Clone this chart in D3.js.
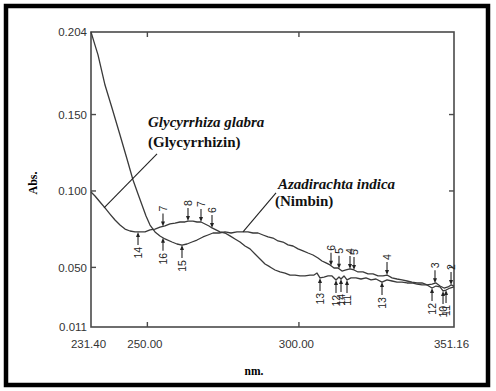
<!DOCTYPE html>
<html>
<head>
<meta charset="utf-8">
<script src="https://cdn.jsdelivr.net/npm/d3@7"></script>
<style>
  body { margin: 0; background: #fff; }
  svg { display: block; }
</style>
</head>
<body>
<script>
// spectrum 1 - starts high at 0.204 (Azadirachta indica / Nimbin)
var nimbinNm = [231.40,232.39,233.71,236.02,238.33,240.97,243.28,245.26,246.91,248.23,249.55,250.87,252.52,254.16,255.81,258.12,259.77,261.42,263.07,264.72,266.37,268.35,270.00,271.65,273.63,275.61,277.59,279.57,281.55,283.20,284.85,286.50,288.15,289.80,291.45,293.10,294.75,296.40,298.05,299.70,301.35,303.00,304.64,306.29,307.61,308.93,310.25,311.57,312.89,314.21,315.53,316.85,318.17,319.49,321.14,322.79,324.44,326.09,327.74,329.06,330.71,332.36,334.01,335.66,337.31,338.96,340.61,342.26,343.91,345.23,346.55,347.87,349.19,350.18,351.16];
var nimbinAbs = [0.2040,0.1975,0.1890,0.1693,0.1543,0.1366,0.1209,0.1072,0.0980,0.0908,0.0836,0.0777,0.0732,0.0705,0.0686,0.0666,0.0653,0.0646,0.0653,0.0666,0.0679,0.0699,0.0712,0.0725,0.0725,0.0732,0.0725,0.0732,0.0732,0.0732,0.0725,0.0725,0.0712,0.0699,0.0692,0.0673,0.0666,0.0647,0.0640,0.0621,0.0608,0.0594,0.0581,0.0561,0.0542,0.0529,0.0516,0.0496,0.0496,0.0476,0.0483,0.0490,0.0483,0.0470,0.0470,0.0457,0.0457,0.0444,0.0444,0.0450,0.0431,0.0424,0.0418,0.0411,0.0404,0.0398,0.0398,0.0385,0.0391,0.0398,0.0378,0.0365,0.0372,0.0385,0.0378];

// spectrum 2 - starts at 0.100 (Glycyrrhiza glabra / Glycyrrhizin)
var glabraNm = [231.40,232.72,234.37,236.02,237.67,239.32,240.97,242.62,244.27,245.92,247.57,249.22,250.87,252.52,254.16,255.81,257.46,259.11,260.76,262.41,263.40,265.05,266.37,267.69,269.01,270.33,271.32,272.64,273.96,275.61,277.26,278.91,280.56,282.21,283.86,285.51,287.16,288.81,290.46,292.11,293.76,295.41,297.06,298.71,300.36,302.01,303.66,304.98,305.97,306.95,308.27,309.59,310.91,312.23,313.22,313.88,314.87,315.86,317.18,318.83,320.48,322.13,323.78,325.43,327.41,329.06,330.71,332.36,334.01,335.66,337.31,338.96,340.61,342.26,343.91,345.23,346.55,347.54,348.53,349.85,351.16];
var glabraAbs = [0.0993,0.0967,0.0928,0.0889,0.0849,0.0810,0.0777,0.0751,0.0738,0.0732,0.0732,0.0732,0.0745,0.0751,0.0764,0.0771,0.0784,0.0790,0.0797,0.0797,0.0803,0.0803,0.0797,0.0797,0.0784,0.0771,0.0758,0.0745,0.0732,0.0725,0.0706,0.0686,0.0666,0.0640,0.0621,0.0588,0.0555,0.0522,0.0503,0.0483,0.0470,0.0463,0.0450,0.0450,0.0444,0.0444,0.0450,0.0450,0.0463,0.0431,0.0437,0.0444,0.0444,0.0418,0.0437,0.0424,0.0444,0.0418,0.0431,0.0431,0.0424,0.0431,0.0418,0.0424,0.0404,0.0418,0.0411,0.0404,0.0404,0.0398,0.0398,0.0391,0.0385,0.0385,0.0365,0.0378,0.0372,0.0346,0.0352,0.0365,0.0372];

// peak / valley markers
var markNm     = [246.91,255.15,263.40,267.69,271.32,255.15,261.42,310.58,313.22,316.85,318.17,329.06,344.89,350.18,306.95,312.23,313.88,315.86,327.41,343.91,347.54,348.53];
var markText   = ["14","7","8","7","6","16","15","6","5","4","5","4","3","2","13","12","14","11","13","12","10","11"];
var markSeries = ["g","g","g","g","g","n","n","n","n","n","n","n","n","n","g","g","g","g","g","g","g","g"];
var markDir    = ["up","down","down","down","down","up","up","down","down","down","down","down","down","down","up","up","up","up","up","up","up","up"];

var xTicks = [231.40, 250.00, 300.00, 351.16];
var yTicks = [0.011, 0.050, 0.100, 0.150, 0.204];

window.onload = drawChart;

function drawChart(){

    var W = 496, H = 391;
    var pLeft = 91, pTop = 32, pRight = 454, pBottom = 327;

    var svg = d3.select("body").append("svg")
        .attr("width", W)
        .attr("height", H);

    // outer frame
    svg.append("rect")
        .attr("x", 6).attr("y", 6)
        .attr("width", 482).attr("height", 379)
        .attr("fill", "#fff")
        .attr("stroke", "#000")
        .attr("stroke-width", 4.5);

    var x = d3.scaleLinear().domain([231.40, 351.16]).range([pLeft, pRight]);
    var y = d3.scaleLinear().domain([0.011, 0.204]).range([pBottom, pTop]);

    var axisColor = "#4a4a4a";

    // plot box
    svg.append("rect")
        .attr("x", pLeft).attr("y", pTop)
        .attr("width", pRight - pLeft).attr("height", pBottom - pTop)
        .attr("fill", "none")
        .attr("stroke", axisColor)
        .attr("stroke-width", 1.6);

    // inner ticks
    var innerX = [250, 300];
    var innerY = [0.050, 0.100, 0.150];
    innerX.forEach(function(v){
        svg.append("line").attr("x1", x(v)).attr("x2", x(v)).attr("y1", pBottom).attr("y2", pBottom - 5)
            .attr("stroke", axisColor).attr("stroke-width", 1.4);
        svg.append("line").attr("x1", x(v)).attr("x2", x(v)).attr("y1", pTop).attr("y2", pTop + 5)
            .attr("stroke", axisColor).attr("stroke-width", 1.4);
    });
    innerY.forEach(function(v){
        svg.append("line").attr("x1", pLeft).attr("x2", pLeft + 5).attr("y1", y(v)).attr("y2", y(v))
            .attr("stroke", axisColor).attr("stroke-width", 1.4);
        svg.append("line").attr("x1", pRight).attr("x2", pRight - 5).attr("y1", y(v)).attr("y2", y(v))
            .attr("stroke", axisColor).attr("stroke-width", 1.4);
    });

    // tick labels
    svg.selectAll(".xlab")
        .data(xTicks)
        .enter().append("text")
        .attr("class", "xlab")
        .attr("x", function(d){ return x(d) - 2.5; })
        .attr("y", 348)
        .attr("text-anchor", "middle")
        .style("font-family", "'Liberation Sans', Arial, sans-serif")
        .style("font-size", "11.5px")
        .style("fill", "#333")
        .text(function(d){ return d.toFixed(2); });

    svg.selectAll(".ylab")
        .data(yTicks)
        .enter().append("text")
        .attr("class", "ylab")
        .attr("x", 87)
        .attr("y", function(d){ return y(d); })
        .attr("dy", "0.36em")
        .attr("text-anchor", "end")
        .style("font-family", "'Liberation Sans', Arial, sans-serif")
        .style("font-size", "11.5px")
        .style("fill", "#333")
        .text(function(d){ return d.toFixed(3); });

    // axis titles
    svg.append("text")
        .attr("transform", "translate(37,183) rotate(-90)")
        .attr("text-anchor", "middle")
        .style("font-family", "'Liberation Serif', 'Times New Roman', serif")
        .style("font-weight", "bold")
        .style("font-size", "12px")
        .text("Abs.");

    svg.append("text")
        .attr("x", 254).attr("y", 375)
        .attr("text-anchor", "middle")
        .style("font-family", "'Liberation Serif', 'Times New Roman', serif")
        .style("font-weight", "bold")
        .style("font-size", "11.5px")
        .text("nm.");

    // spectra
    var nimbin = nimbinNm.map(function(d, i){ return [d, nimbinAbs[i]]; });
    var glabra = glabraNm.map(function(d, i){ return [d, glabraAbs[i]]; });

    var line = d3.line()
        .x(function(d){ return x(d[0]); })
        .y(function(d){ return y(d[1]); });

    [nimbin, glabra].forEach(function(s){
        svg.append("path")
            .datum(s)
            .attr("d", line)
            .attr("fill", "none")
            .attr("stroke", "#3a3a3a")
            .attr("stroke-width", 1.3)
            .attr("stroke-linejoin", "round");
    });

    // value of a spectrum at a wavelength
    function valueAt(series, nm){
        for (var i = 1; i < series.length; i++){
            if (series[i][0] >= nm){
                var a = series[i-1], b = series[i];
                var t = (nm - a[0]) / (b[0] - a[0]);
                return a[1] + t * (b[1] - a[1]);
            }
        }
        return series[series.length-1][1];
    }

    // peak arrows
    var arrowLen = 13;
    markNm.forEach(function(nm, i){
        var s = markSeries[i] == "g" ? glabra : nimbin;
        var px = x(nm), tip = y(valueAt(s, nm));
        var down = markDir[i] == "down";
        var sgn = down ? -1 : 1;
        var g = svg.append("g");
        g.append("line")
            .attr("x1", px).attr("x2", px)
            .attr("y1", tip + sgn * arrowLen).attr("y2", tip + sgn * 3)
            .attr("stroke", "#222").attr("stroke-width", 1.1);
        g.append("path")
            .attr("d", "M" + (px - 2) + "," + (tip + sgn * 5) + "L" + (px + 2) + "," + (tip + sgn * 5) + "L" + px + "," + tip + "Z")
            .attr("fill", "#222");
        g.append("text")
            .attr("transform", "translate(" + px + "," + (tip + sgn * (arrowLen + 2)) + ") rotate(-90)")
            .attr("dy", "0.35em")
            .attr("text-anchor", down ? "start" : "end")
            .style("font-family", "'Liberation Sans', Arial, sans-serif")
            .style("font-size", "10.5px")
            .style("fill", "#222")
            .text(markText[i]);
    });

    // species labels with pointer lines
    var serif = "'Liberation Serif', 'Times New Roman', serif";

    svg.append("line")
        .attr("x1", x(253.18)).attr("y1", y(0.1242))
        .attr("x2", x(235.69)).attr("y2", y(0.0889))
        .attr("stroke", "#222").attr("stroke-width", 1.1);
    svg.append("line")
        .attr("x1", x(292.44)).attr("y1", y(0.0987))
        .attr("x2", x(281.55)).attr("y2", y(0.0732))
        .attr("stroke", "#222").attr("stroke-width", 1.1);

    function label(txt, px, py, italic){
        svg.append("text")
            .attr("x", px).attr("y", py)
            .style("font-family", serif)
            .style("font-weight", "bold")
            .style("font-style", italic ? "italic" : "normal")
            .style("font-size", "15px")
            .style("fill", "#111")
            .text(txt);
    }
    label("Glycyrrhiza glabra", 148, 127, true);
    label("(Glycyrrhizin)", 148, 147, false);
    label("Azadirachta indica", 278, 189, true);
    label("(Nimbin)", 275, 206, false);
}
</script>
</body>
</html>
